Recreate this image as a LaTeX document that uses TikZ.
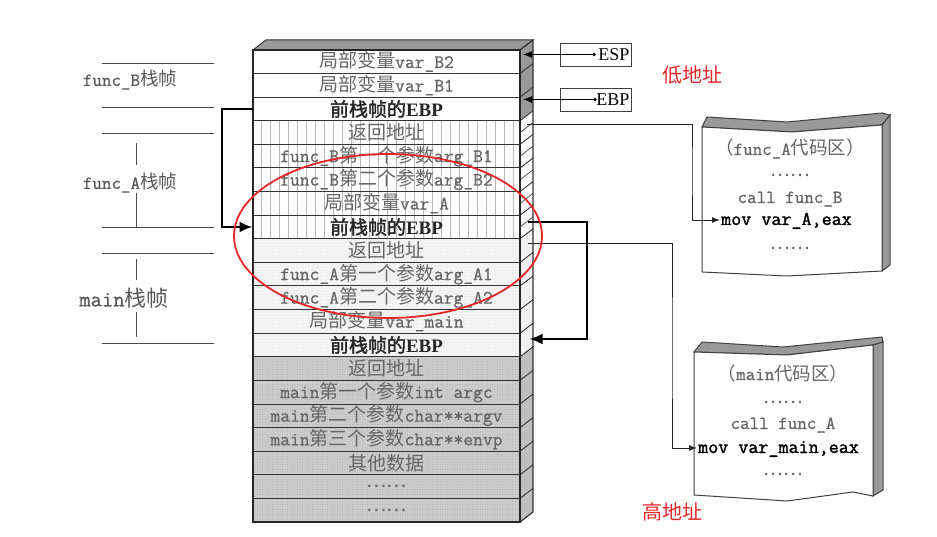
\documentclass[tikz,border=0pt]{standalone}
\usepackage{fontspec}
\setmainfont{Liberation Serif}
\setmonofont{Latin Modern Mono}[FakeBold=0.8]
\newfontfamily\movfont{Latin Modern Mono}[FakeBold=1.6]
\newfontfamily\cjk{Noto Sans CJK SC}
\newfontfamily\cjkbf{Noto Sans CJK SC}[FakeBold=2]
\usetikzlibrary{arrows.meta,patterns.meta,calc}
\newcommand\zh[1]{{\cjk #1}}
\newcommand\zhb[1]{{\cjkbf #1}}
\newcommand\ebprow{{\color{black!85}\zhb{前栈帧的}\textbf{\rmfamily EBP}}}
\definecolor{memred}{HTML}{E8262A}

\begin{document}
\begin{tikzpicture}[x=1pt,y=-1pt,
  cell/.style={draw=black!80, line width=1pt, minimum width=267pt,
    minimum height=23.6pt, inner sep=0pt, text=black!60,
    font=\ttfamily\fontsize{19}{20}\selectfont},
  plaincell/.style={cell, fill=white},
  linecell/.style={cell, preaction={fill=white},
    pattern={Lines[angle=90,distance=9pt,line width=0.5pt]},
    pattern color=black!28},
  dotcell/.style={cell, preaction={fill=black!4},
    pattern={Dots[distance=3pt,radius=0.45pt]}, pattern color=black!30},
  graycell/.style={cell, preaction={fill=black!20},
    pattern={Dots[distance=2.5pt,radius=0.5pt]}, pattern color=black!30},
  framelbl/.style={text=black!65, inner sep=0pt,
    font=\ttfamily\fontsize{18.5}{20}\selectfont},
  guide/.style={draw=black!70, line width=0.9pt},
  regbox/.style={draw=black!75, line width=0.9pt, minimum height=23pt,
    text width=67pt, align=right, inner sep=2pt,
    font=\rmfamily\fontsize{18}{20}\selectfont},
  regarrow/.style={draw=black, line width=1pt, -{Latex[length=9pt,width=7pt]}},
  linkarrow/.style={draw=black, line width=2.8pt,
    -{Latex[length=13pt,width=11pt]}},
  retarrow/.style={draw=black!85, line width=0.9pt,
    -{Latex[length=8pt,width=6pt]}},
  codetxt/.style={text=black!60, inner sep=1pt, text height=13pt, text depth=3pt,
    font=\ttfamily\fontsize{18.5}{20}\selectfont},
  movtxt/.style={text=black, inner sep=1pt, anchor=west, text height=13pt,
    text depth=3pt, font=\movfont\fontsize{19.5}{20}\selectfont},
  addr/.style={text=memred, font=\cjk\fontsize{20}{22}\selectfont},
  pageface/.style={fill=white, draw=black!75, line width=1pt},
  pageside/.style={fill=black!40, draw=black!75, line width=1pt}]

\fill[white] (0,0) rectangle (937,537);
\useasboundingbox (0,0) rectangle (937,537);

% ---- top and side faces of the stack block ----
\filldraw[fill=black!40, draw=black!80, line width=1pt]
  (253,50) -- (266,40) -- (533,40) -- (520,50) -- cycle;
\fill[black!40] (520,50) -- (533,40) -- (533,110.8) -- (520,120.8) -- cycle;
\fill[white] (520,120.8) -- (533,110.8) -- (533,228.8) -- (520,238.8) -- cycle;
\fill[black!6] (520,238.8) -- (533,228.8) -- (533,346.8) -- (520,356.8) -- cycle;
\fill[black!25] (520,356.8) -- (533,346.8) -- (533,512) -- (520,522) -- cycle;
\foreach \i in {1,...,19}
  \draw[black!80, line width=0.9pt] (520,50+23.6*\i) -- ++(13,-10);
\foreach \i in {3,...,7}
  \draw[black!70, line width=0.7pt] (520,61.8+23.6*\i) -- ++(13,-10);
\draw[black!80, line width=1.2pt] (520,50) -- (533,40) -- (533,512) -- (520,522);

% ---- stack cells, low addresses at the top ----
\node[plaincell] (r1)  at (386.5,61.8)  {\zh{局部变量}var\_B2};
\node[plaincell] (r2)  at (386.5,85.4)  {\zh{局部变量}var\_B1};
\node[plaincell] (r3)  at (386.5,109.0) {\ebprow};
\node[linecell]  (r4)  at (386.5,132.6) {\zh{返回地址}};
\node[linecell]  (r5)  at (386.5,156.2) {func\_B\zh{第一个参数}arg\_B1};
\node[linecell]  (r6)  at (386.5,179.8) {func\_B\zh{第二个参数}arg\_B2};
\node[linecell]  (r7)  at (386.5,203.4) {\zh{局部变量}var\_A};
\node[linecell]  (r8)  at (386.5,227.0) {\ebprow};
\node[dotcell]   (r9)  at (386.5,250.6) {\zh{返回地址}};
\node[dotcell]   (r10) at (386.5,274.2) {func\_A\zh{第一个参数}arg\_A1};
\node[dotcell]   (r11) at (386.5,297.8) {func\_A\zh{第二个参数}arg\_A2};
\node[dotcell]   (r12) at (386.5,321.4) {\zh{局部变量}var\_main};
\node[dotcell]   (r13) at (386.5,345.0) {\ebprow};
\node[graycell]  (r14) at (386.5,368.6) {\zh{返回地址}};
\node[graycell]  (r15) at (386.5,392.2) {main\zh{第一个参数}int argc};
\node[graycell]  (r16) at (386.5,415.8) {main\zh{第二个参数}char**argv};
\node[graycell]  (r17) at (386.5,439.4) {main\zh{第三个参数}char**envp};
\node[graycell]  (r18) at (386.5,463.0) {\zh{其他数据}};
\node[graycell]  (r19) at (386.5,486.6) {\zh{……}};
\node[graycell]  (r20) at (386.5,510.2) {\zh{……}};
\draw[black!85, line width=1.4pt] (253,50) rectangle (520,522);

% ---- frame labels on the left ----
\foreach \y in {63,107,133,227,253,343}
  \draw[guide] (102,\y) -- (214,\y);
\node[framelbl] (fB) at (130,80)  {func\_B\zh{栈帧}};
\node[framelbl] (fA) at (130,183) {func\_A\zh{栈帧}};
\node[framelbl, font=\ttfamily\fontsize{22}{24}\selectfont] (fM) at (124,298) {main\zh{栈帧}};
\draw[guide] (136,143) -- (136,165);
\draw[guide] (136,193) -- (136,227);
\draw[guide] (136,259) -- (136,280);
\draw[guide] (136,312) -- (136,337);

% ---- ESP / EBP registers ----
\node[regbox] (esp) at (596,54.5) {ESP};
\node[regbox] (ebp) at (596,99.5) {EBP};
\coordinate (espdot) at (594,54.5);
\coordinate (ebpdot) at (595,99.5);
\coordinate (espTip) at (523,54.5);
\coordinate (ebpTip) at (523,99.5);
\draw[regarrow] (espdot) -- (espTip);
\draw[regarrow] (ebpdot) -- (ebpTip);
\fill (espdot) circle (1.8);
\fill (ebpdot) circle (1.8);

% ---- saved-EBP chain ----
\coordinate (bendL) at (222,160);
\draw[linkarrow] (r3.west) -| (bendL) |- (r8.west);
\coordinate (side8)  at ($(r8.east)+(7,-5)$);
\coordinate (side13) at ($(r13.east)+(9,-6)$);
\coordinate (bendR)  at (587,280);
\draw[linkarrow] (side8) -| (bendR) |- (side13);

% ---- code areas ----
\fill[black!40, draw=black!75, line width=1pt]
  (702,127) -- (707,117) -- (787,122) -- (882,113) -- (890,115) -- (882,125) -- (792,132) -- cycle;
\filldraw[pageside] (882,125) -- (890,115) -- (890,265) -- (882,271) -- cycle;
\filldraw[pageface] (702,127) -- (792,132) -- (882,125) -- (882,271) -- (787,276) -- (702,272) -- cycle;
\node[codetxt] (fa1) at (790,150) {\zh{（}func\_A\zh{代码区）}};
\node[codetxt] (fa2) at (790,172) {\zh{……}};
\node[codetxt] (fa3) at (790,198) {call func\_B};
\node[movtxt]  (movA) at (720,220) {mov var\_A,eax};
\node[codetxt] (fa5) at (790,245) {\zh{……}};

\fill[black!40, draw=black!75, line width=1pt]
  (694,352) -- (702,342) -- (783,347) -- (882,337) -- (883,342) -- (873,345) -- (787,355) -- cycle;
\filldraw[pageside] (873,345) -- (883,342) -- (883,490) -- (873,496) -- cycle;
\filldraw[pageface] (694,352) -- (787,355) -- (873,345) -- (873,496) -- (853,492) -- (787,501) -- (694,495) -- cycle;
\node[codetxt] (ma1) at (783,375) {\zh{（}main\zh{代码区）}};
\node[codetxt] (ma2) at (783,398) {\zh{……}};
\node[codetxt] (ma3) at (783,424) {call func\_A};
\node[movtxt]  (movM) at (697,448) {mov var\_main,eax};
\node[codetxt] (ma5) at (783,470) {\zh{……}};

% ---- return addresses point back into the callers' code ----
\coordinate (ret4) at ($(r4.east)+(7,-8)$);
\coordinate (ret9) at ($(r9.east)+(7,-7)$);
\coordinate (bendA) at (692,170);
\coordinate (bendM) at (672,350);
\draw[retarrow] (ret4) -| (bendA) |- (movA.west);
\draw[retarrow] (ret9) -| (bendM) |- (movM.west);

% ---- address direction ----
\node[addr] (low)  at (692,75)  {低地址};
\node[addr] (high) at (672,512) {高地址};

% ---- highlighted region ----
\draw[memred, line width=1.8pt] (388,236) ellipse [x radius=154, y radius=82];
\end{tikzpicture}
\end{document}
